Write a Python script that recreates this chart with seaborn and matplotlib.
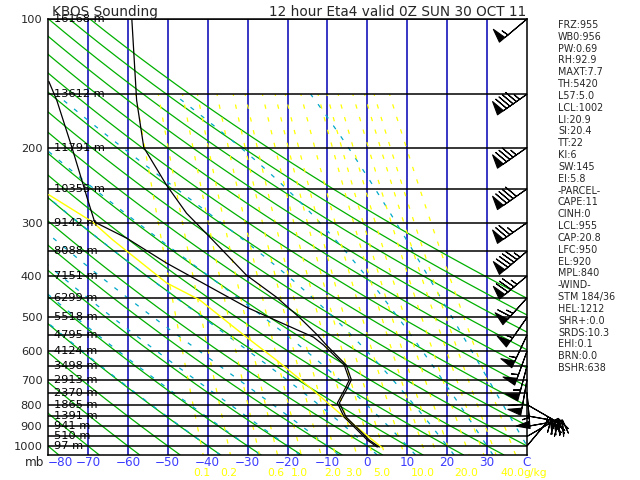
import numpy as np
import pandas as pd
import seaborn as sns
import matplotlib.pyplot as plt
from matplotlib import font_manager, transforms

# sounding (mb, deg C)
temp_p = [100, 155, 200, 245, 285, 329, 398, 448, 500, 550, 580, 646, 700, 732, 793, 856, 918, 969, 1006]
temp_t = [-59, -57.8, -56, -50.3, -45.3, -38.8, -30.3, -22.8, -17, -12.5, -10.3, -5.3, -4, -5, -7, -5.3, -2, 0.5, 3]
dewp_p = [140, 155, 200, 266, 299, 326, 373, 420, 473, 515, 556, 580, 646, 700, 732, 793, 856, 918, 969, 1006]
dewp_t = [-79.8, -77.8, -74, -70, -68.3, -60.3, -50.3, -40.3, -30.3, -21.5, -13.5, -11, -5.8, -4.5, -5.5, -7.5, -5.8, -2.5, 0, 2.5]
parcel_p = [258, 299, 329, 415, 455, 556, 629, 728, 837, 933, 1006]
parcel_t = [-79.8, -68.8, -63.8, -50.3, -42, -30.3, -22.8, -14.5, -7, -0.8, 3.5]

# diagram line families
isotherms = list(range(-70, 40, 10))
theta_c = list(range(-80, 130, 10))      # dry adiabats, deg C at 1000 mb
theta_w = list(range(-40, 50, 10))       # moist adiabats, deg C at 1000 mb
mix_ratio = [0.1, 0.2, 0.4, 0.6, 1.0, 1.5, 2.0, 3.0, 4.0, 5.0, 7.0, 10.0, 12.0, 15.0, 20.0, 25.0, 30.0, 40.0]
mix_labels = [0.1, 0.2, 0.6, 1.0, 2.0, 3.0, 5.0, 10.0, 20.0, 40.0]

levels = list(range(100, 1050, 50))
heights = [16168, 13612, 11791, 10355, 9142, 8088, 7151, 6299, 5518, 4795,
           4124, 3498, 2913, 2370, 1865, 1391, 941, 510, 97]
wind_dir = [230, 235, 235, 235, 235, 230, 230, 222, 215, 205, 200, 195, 190, 175, 120, 100, 80, 60, 40]
wind_spd = [55, 95, 85, 90, 75, 95, 85, 65, 55, 55, 55, 55, 60, 55, 35, 40, 35, 30, 20]

stats = ["FRZ:955", "WB0:956", "PW:0.69", "RH:92.9", "MAXT:7.7", "TH:5420", "L57:5.0",
         "LCL:1002", "LI:20.9", "SI:20.4", "TT:22", "KI:6", "SW:145", "EI:5.8",
         "-PARCEL-", "CAPE:11", "CINH:0", "LCL:955", "CAP:20.8", "LFC:950", "EL:920",
         "MPL:840", "-WIND-", "STM 184/36", "HEL:1212", "SHR+:0.0", "SRDS:10.3",
         "EHI:0.1", "BRN:0.0", "BSHR:638"]

RD, CP, LV, EPS = 287.04, 1005.7, 2.501e6, 0.622


def svp(tc):
    return 6.112 * np.exp(17.67 * tc / (tc + 243.5))


def moist_rate(p, tk):
    es = svp(tk - 273.15)
    rs = EPS * es / (p - es)
    return (RD * tk + LV * rs) / (p * (CP + LV ** 2 * rs * EPS / (RD * tk ** 2)))


def moist_adiabat(t0, p_end, n=120):
    ps = np.linspace(1000, p_end, n)
    tk = t0 + 273.15
    out = [tk]
    for i in range(n - 1):
        p, h = ps[i], ps[i + 1] - ps[i]
        k1 = moist_rate(p, tk)
        k2 = moist_rate(p + h / 2, tk + h / 2 * k1)
        k3 = moist_rate(p + h / 2, tk + h / 2 * k2)
        k4 = moist_rate(p + h, tk + h * k3)
        tk = tk + h / 6 * (k1 + 2 * k2 + 2 * k3 + k4)
        out.append(tk)
    return ps, np.array(out) - 273.15


def mix_temp(w, p):
    e = w * p / (622.0 + w)
    a = np.log(e / 6.112)
    return 243.5 * a / (17.67 - a)


sns.set_style("white")
names = {f.name for f in font_manager.fontManager.ttflist}
narrow = "Liberation Sans Narrow" in names
plt.rcParams["font.family"] = ["Liberation Sans Narrow", "DejaVu Sans"] if narrow else ["DejaVu Sans"]
fs = 1.0 if narrow else 0.82

fig = plt.figure(figsize=(6.4, 4.8), dpi=100)
ax = fig.add_axes([48 / 640, 1 - 455 / 480, 479 / 640, 436 / 480])
ax.set_yscale("log")
ax.set_xlim(-80, 40)
ax.set_ylim(1050, 100)

blue = "#0000b4"
green = "#00b000"
cyan = "#00a8c8"
yellow = "#ffff00"

ax.vlines(isotherms, 100, 1050, color=blue, lw=1.1, zorder=1)

p_dry = np.geomspace(100, 1050, 200)
for tc in theta_c:
    th = tc + 273.15
    ax.plot(th * (p_dry / 1000.0) ** 0.2857 - 273.15, p_dry, color=green, lw=0.9, zorder=2)

for t0 in theta_w:
    pu, tu = moist_adiabat(t0, 150)
    pd_, td = moist_adiabat(t0, 1050, 20)
    ps = np.concatenate([pd_[::-1], pu[1:]])
    ts = np.concatenate([td[::-1], tu[1:]])
    ax.plot(ts, ps, color=cyan, lw=0.9, linestyle=(0, (3.5, 7)), zorder=2)

p_mix = np.geomspace(150, 1050, 100)
for w in mix_ratio:
    ax.plot(mix_temp(w, p_mix), p_mix, color=yellow, lw=0.9, linestyle=(2, (3.5, 7)), zorder=2)

ax.hlines(levels, -80, 40, color="black", lw=1.1, zorder=3)

df_t = pd.DataFrame({"t": temp_t, "p": temp_p})
df_d = pd.DataFrame({"t": dewp_t, "p": dewp_p})
df_pc = pd.DataFrame({"t": parcel_t, "p": parcel_p})
sns.lineplot(data=df_pc, x="t", y="p", sort=False, estimator=None, color=yellow, lw=1.0, ax=ax, zorder=4)
sns.lineplot(data=df_d, x="t", y="p", sort=False, estimator=None, color="black", lw=0.9, ax=ax, zorder=5)
sns.lineplot(data=df_t, x="t", y="p", sort=False, estimator=None, color="black", lw=0.9, ax=ax, zorder=5)

# wind barbs on the right edge
rad = np.deg2rad(wind_dir)
u = -np.array(wind_spd) * np.sin(rad)
v = -np.array(wind_spd) * np.cos(rad)
ax.barbs(np.full(len(levels), 40.0), levels, u, v, length=7.2, clip_on=False, lw=0.8,
         color="black", sizes=dict(spacing=0.11, height=0.38, width=0.2), zorder=6)

for p, h in zip(levels, heights):
    ax.text(-78.5, p, f"{h} m", ha="left", va="center", fontsize=10 * fs, color="black", zorder=7)

ax.set_yticks(list(range(100, 1100, 100)))
ax.set_yticklabels([str(p) for p in range(100, 1100, 100)], fontsize=10 * fs)
ax.yaxis.set_minor_locator(plt.NullLocator())
ax.tick_params(axis="y", length=0, pad=4)
ax.set_xticks(list(range(-80, 50, 10)))
ax.set_xticklabels([f"\u2212{abs(t)}" if t < 0 else str(t) for t in range(-80, 40, 10)] + ["C"],
                   fontsize=10.5 * fs, color="#3c3cff")
ax.get_xticklabels()[0].set_ha("left")
ax.tick_params(axis="x", length=0, pad=1)
ax.set_xlabel("")
ax.set_ylabel("")
for s in ax.spines.values():
    s.set_color("black")
    s.set_linewidth(1.1)

trans = transforms.blended_transform_factory(ax.transData, ax.transAxes)
for w in mix_labels:
    ax.text(mix_temp(w, 1000.0), -0.041, f"{w:.1f}", transform=trans, ha="center", va="center",
            fontsize=9.5 * fs, color=yellow, clip_on=False)
ax.text(39, -0.041, "g/kg", transform=trans, ha="left", va="center", fontsize=9.5 * fs,
        color=yellow, clip_on=False)

fig.text(35 / 640, 1 - 463 / 480, "mb", ha="center", va="center", fontsize=10.5 * fs)
fig.text(52 / 640, 1 - 12 / 480, "KBOS Sounding", ha="left", va="center", fontsize=12 * fs)
fig.text(526 / 640, 1 - 12 / 480, "12 hour Eta4 valid 0Z SUN 30 OCT 11", ha="right", va="center",
         fontsize=12 * fs)
for i, s in enumerate(stats):
    fig.text(558 / 640, 1 - (25 + i * 11.83) / 480, s, ha="left", va="center", fontsize=8.5 * fs)

fig.savefig("out.png", dpi=100, facecolor="white")
